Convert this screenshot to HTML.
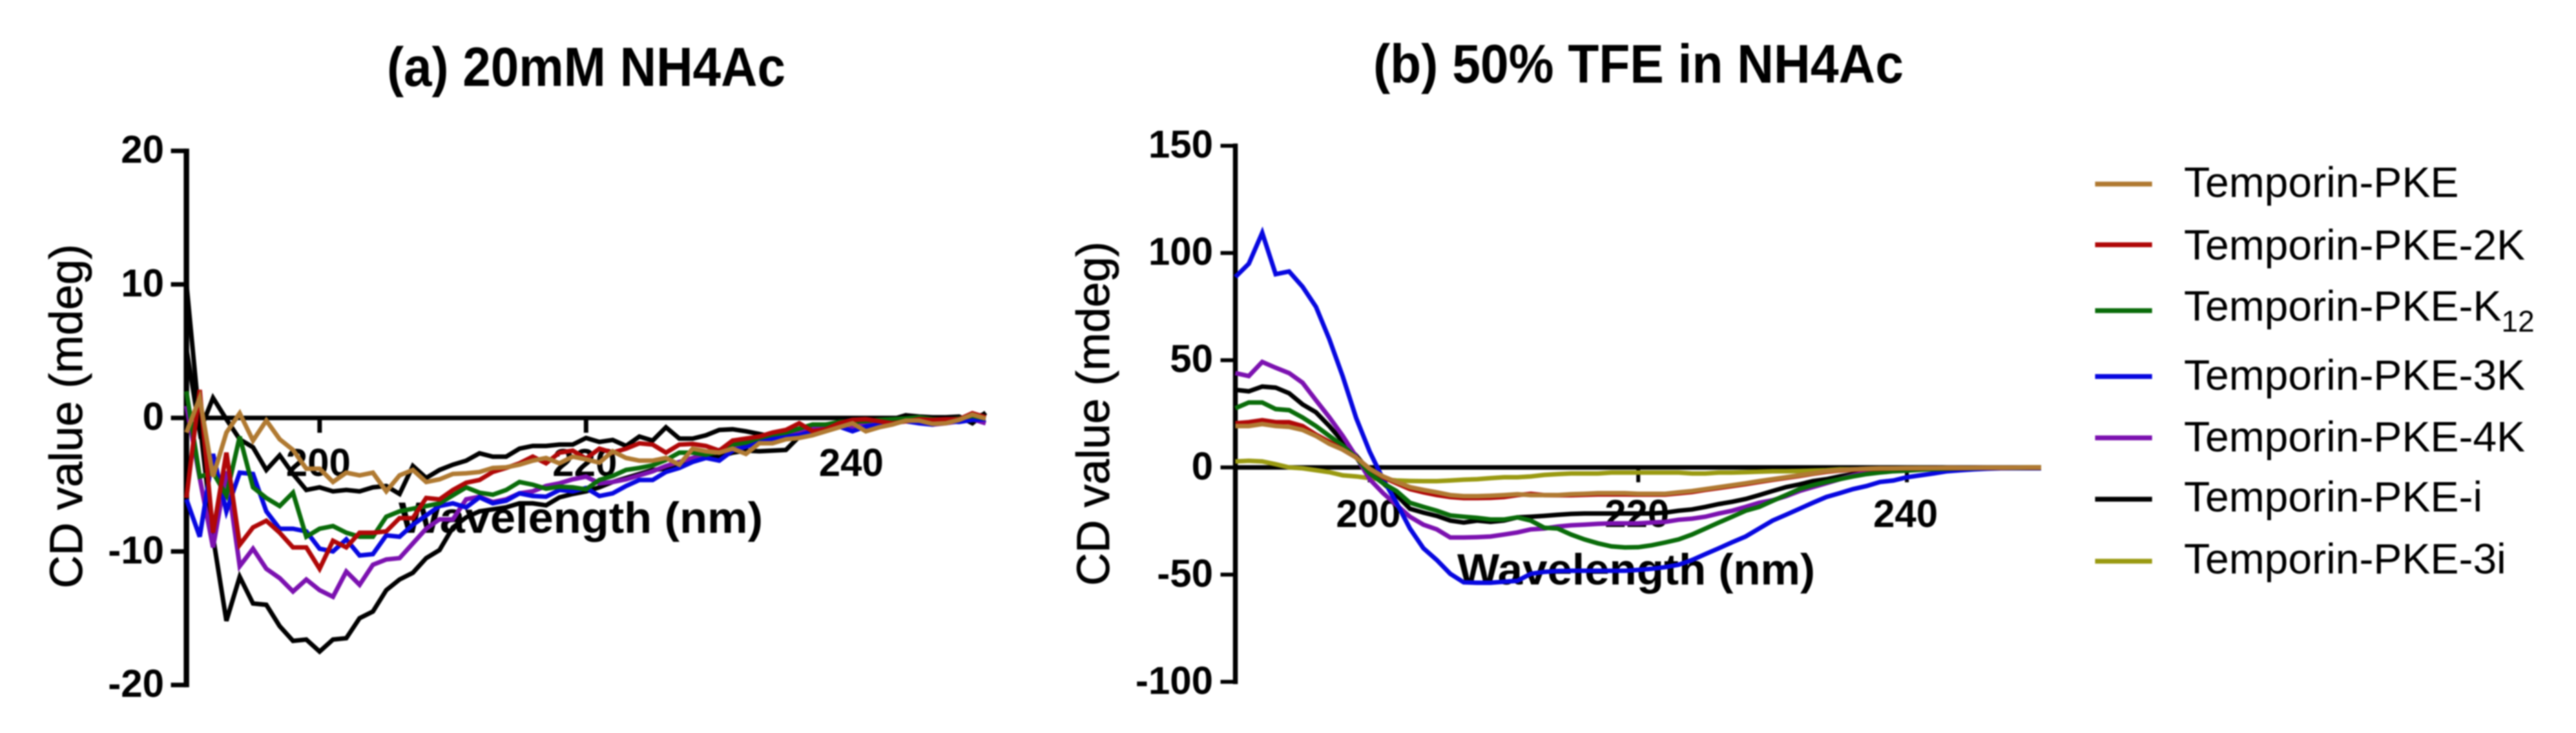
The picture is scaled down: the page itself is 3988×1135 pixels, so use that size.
<!DOCTYPE html>
<html lang="en">
<head>
<meta charset="utf-8">
<title>CD spectra of Temporin-PKE analogues</title>
<style>
html,body{margin:0;padding:0;background:#fff;width:3988px;height:1135px;overflow:hidden}
svg{display:block;filter:blur(1px)}
text{font-family:"Liberation Sans",sans-serif;fill:#000}
.b{font-weight:bold}
</style>
</head>
<body>
<svg id="chart" xmlns="http://www.w3.org/2000/svg" width="3988" height="1135" viewBox="0 0 3988 1135">
  <rect x="0" y="0" width="3988" height="1135" fill="#fff"/>
  <text class="b" x="599" y="133" font-size="85" textLength="617" lengthAdjust="spacingAndGlyphs">(a) 20mM NH4Ac</text>
  <text class="b" x="2126" y="128" font-size="84" textLength="821" lengthAdjust="spacingAndGlyphs">(b) 50% TFE in NH4Ac</text>
  <text x="127" y="644.5" font-size="71" text-anchor="middle" textLength="533" lengthAdjust="spacingAndGlyphs" stroke="#000" stroke-width="0.8" transform="rotate(-90 127 644.5)">CD value (mdeg)</text>
  <text x="1717" y="640.5" font-size="71" text-anchor="middle" textLength="533" lengthAdjust="spacingAndGlyphs" stroke="#000" stroke-width="0.8" transform="rotate(-90 1717 640.5)">CD value (mdeg)</text>
  <text class="b" x="617" y="825" font-size="68" textLength="564" lengthAdjust="spacingAndGlyphs">Wavelength (nm)</text>
  <text class="b" x="2256" y="905" font-size="68" textLength="554" lengthAdjust="spacingAndGlyphs">Wavelength (nm)</text>
  <g id="layer-a"></g>
  <g id="layer-b"></g>
  <g id="legend"></g>
</svg>
<script>
const wavelengths = [190,191,192,193,194,195,196,197,198,199,200,201,202,203,204,205,206,207,208,209,210,211,212,213,214,215,216,217,218,219,220,221,222,223,224,225,226,227,228,229,230,231,232,233,234,235,236,237,238,239,240,241,242,243,244,245,246,247,248,249,250];
const xTickValues = [200,220,240];
const yTicksA = [20,10,0,-10,-20];
const yTicksB = [150,100,50,0,-50,-100];
const seriesNames = ['Temporin-PKE','Temporin-PKE-2K','Temporin-PKE-K','Temporin-PKE-3K','Temporin-PKE-4K','Temporin-PKE-i','Temporin-PKE-3i'];
const seriesColors = ['#b07a32','#b00808','#0a6c0a','#0808e0','#7c12b0','#000000','#9a9a12'];

/* Panel (a) 20mM NH4Ac */
const aPKE = [-1.1,1.5,-4.4,-1.1,0.35,-1.7,-0.2,-1.6,-2.4,-3.8,-3.8,-4.8,-4.1,-4.3,-4.1,-5.5,-4.3,-3.9,-4.8,-4.6,-4.2,-4.15,-4.05,-3.75,-3.7,-3.5,-3.2,-3,-3.4,-2.9,-3.1,-3.35,-2.5,-3,-3.2,-3.2,-3,-3.5,-2.3,-2.5,-2.6,-2.3,-2.7,-1.9,-1.9,-1.6,-1.5,-1.3,-1,-0.7,-0.4,-1,-0.7,-0.5,-0.2,-0.2,-0.45,-0.4,-0.15,0.25,-0.05];
const a2K = [-6,2.1,-8.6,-2.6,-9.5,-8.2,-7.7,-8.6,-9.7,-9.7,-11.3,-9.2,-9.7,-8.6,-8.6,-8.5,-7.5,-7.5,-6,-6.1,-5.4,-4.85,-4.65,-4.05,-3.75,-3.4,-2.9,-3.4,-2.6,-2.45,-3.05,-2.3,-2.6,-2.3,-1.9,-2,-2.6,-2,-1.95,-2.1,-2.45,-1.7,-1.55,-1.4,-1.1,-0.9,-0.4,-1,-0.85,-0.4,-0.15,-0.1,-0.25,-0.4,-0.25,-0.1,-0.15,-0.1,-0.1,0.35,0.05];
const aK12 = [2,-4.4,-4.1,-5.8,-1.4,-5.2,-6,-6.6,-5.6,-8.9,-8.3,-8.1,-8.6,-8.9,-8.9,-7.4,-7,-6.8,-6.6,-6.4,-5.8,-5.2,-5.6,-5.75,-5.4,-4.8,-5,-5.3,-5.15,-5.2,-5.35,-4.65,-4.35,-3.9,-3.75,-3.55,-3.15,-2.6,-2.6,-2.75,-2.5,-2,-1.85,-1.5,-1.25,-1.1,-0.8,-0.5,-0.5,-0.3,-0.25,-0.25,-0.15,-0.1,-0.05,0.05,-0.1,-0.15,-0.05,0.15,-0.05];
const a3K = [-6.1,-8.9,-2.7,-7,-4.1,-4.2,-7,-8.3,-8.3,-8.5,-9.8,-10,-9.1,-10.3,-10.2,-8.8,-8.9,-8,-7.3,-6.6,-6.4,-6.7,-5.95,-6.4,-6.2,-5.65,-5.85,-5.9,-5.4,-5.5,-5.25,-5.85,-5.65,-5.1,-4.65,-4.65,-4.05,-3.75,-3.3,-3,-3.2,-2.45,-2.15,-1.85,-1.55,-1.4,-1.3,-1,-0.85,-0.65,-1,-0.65,-0.5,-0.4,-0.25,-0.4,-0.5,-0.25,-0.3,-0.15,-0.1];
const a4K = [0.9,-4.5,-9.7,-4,-11.1,-9.8,-11.3,-12,-13,-12.1,-12.9,-13.4,-11.5,-12.5,-11,-10.6,-10.5,-9.4,-8.3,-7.6,-7.6,-6.1,-5.9,-6.3,-6.1,-5.65,-5.5,-5.1,-4.9,-4.6,-4.4,-4.9,-4.8,-4.6,-4.3,-4,-3.6,-3.3,-3,-2.7,-2.4,-2.15,-1.85,-1.55,-1.4,-1.2,-1,-0.7,-0.5,-0.45,-0.7,-0.5,-0.4,-0.3,-0.25,-0.25,-0.5,-0.4,-0.25,-0.1,-0.4];
const aI = [10.1,-0.4,-8.9,-15.2,-11.9,-13.9,-14,-15.6,-16.7,-16.6,-17.5,-16.6,-16.5,-15,-14.5,-12.9,-12.1,-11.6,-10.5,-9.9,-8.2,-7.45,-7,-6.85,-6.7,-6.4,-6.4,-6.55,-5.95,-5.7,-5.5,-5.2,-4.8,-4.5,-4.2,-3.9,-3.8,-3.5,-3.2,-3,-2.9,-2.6,-2.45,-2.5,-2.45,-2.4,-1.4,-0.8,-0.7,-0.55,-0.4,-0.25,-0.25,-0.1,0.2,-0.1,-0.1,-0.25,-0.1,-0.1,0.35];
const a3I = [5.2,-1,1.5,-0.1,-1.6,-2.2,-3.9,-2.8,-4.2,-5.4,-5.2,-5.5,-5.4,-5.5,-5.2,-5.1,-5.7,-3.6,-4.5,-3.9,-3.5,-3.2,-2.65,-2.9,-2.9,-2.3,-2.1,-2.1,-2,-2,-1.5,-1.8,-1.65,-2.1,-1.4,-1.7,-0.7,-1.55,-1.55,-1.3,-0.9,-0.85,-1,-1.2,-1.4,-1.5,-1.2,-0.9,-0.5,-0.4,-0.2,-0.1,-0.1,-0.1,0.2,0.1,0.05,0.05,0.1,-0.4,0.4];

/* Panel (b) 50% TFE in NH4Ac */
const bPKE = [19.3,19.3,20.2,19.3,18.9,17.5,14.7,11,8.3,4.6,-0.6,-4.2,-6.8,-9.2,-10.5,-11.6,-12.9,-13.4,-13.4,-13.2,-12.9,-12.5,-12.9,-12.9,-12.9,-12.5,-12.3,-12,-12,-12,-12.3,-12.3,-12.3,-11.6,-11,-10.1,-9.2,-8.3,-7.4,-6.4,-5.5,-4.6,-3.7,-2.8,-1.8,-1.3,-0.9,-0.6,-0.4,-0.4,-0.3,-0.3,-0.3,-0.2,-0.2,-0.2,-0.1,-0.1,-0.1,0,0];
const b2K = [20.6,21.1,22,21.1,21.1,19.3,15.3,11.9,8.3,4.6,-0.6,-4.6,-7.4,-10.1,-11.6,-12.9,-13.8,-14.3,-14.3,-14.2,-13.8,-12.9,-12.3,-12.9,-13,-13,-12.8,-12.6,-12.6,-12.6,-12.7,-12.7,-12.7,-12.1,-11.5,-10.5,-9.6,-8.7,-7.8,-6.8,-5.8,-4.9,-4,-3,-2.1,-1.5,-1.1,-0.8,-0.6,-0.5,-0.4,-0.4,-0.3,-0.3,-0.3,-0.2,-0.2,-0.2,-0.1,-0.1,-0.1];
const bK12 = [27.6,30.3,30.3,27.2,26.7,23.3,19.3,14.7,10.1,4.6,-2.8,-7.4,-11,-16.5,-18.4,-20.2,-22.4,-23,-23.5,-24.3,-24.3,-23.3,-24.8,-28.1,-28.5,-31.3,-33.6,-35.4,-36.8,-37.3,-37.2,-36.3,-35,-33.6,-31.3,-28.5,-25.7,-23,-20.2,-18.4,-15.6,-12.9,-10.1,-8.3,-6.8,-5.5,-4.2,-3.1,-2.4,-1.8,-1.5,-1.1,-0.8,-0.6,-0.4,-0.3,-0.2,-0.2,-0.2,-0.2,-0.2];
const b3K = [88.8,95,109.4,90.1,91.4,84.3,74.9,59.8,42.4,23,7.4,-5.5,-16.5,-28.5,-37.7,-43.2,-49.6,-53.6,-53.8,-53.8,-53.3,-52.9,-49.6,-48.7,-48.3,-48.2,-48.2,-48.2,-48.2,-48.2,-47.8,-47.3,-46.5,-45.4,-43.2,-40.4,-37.7,-34.9,-32.2,-28.5,-24.8,-22.1,-19.3,-16.5,-13.8,-12,-10.1,-8.7,-6.8,-6.1,-4.6,-3.7,-2.8,-1.8,-1.3,-0.9,-0.6,-0.4,-0.4,-0.4,-0.4];
const b4K = [44,42.6,49.2,46.5,44,39.5,31.3,23.4,14.7,5,-5.5,-12,-17.5,-23,-26.7,-28.9,-32.7,-32.7,-32.5,-32.2,-31.3,-30.3,-28.9,-28.5,-27.6,-27,-26.7,-26.3,-26.1,-26.1,-26.1,-25.7,-25.4,-24.4,-23.9,-23,-21.5,-20.2,-18.4,-16.5,-15.3,-13.4,-11,-9.2,-7.4,-5.5,-3.7,-2.4,-1.5,-0.9,-0.6,-0.4,-0.3,-0.2,-0.2,-0.2,-0.2,-0.2,-0.2,-0.2,-0.2];
const bI = [36.2,35.5,37.7,37.2,34.6,29.4,25.7,19.3,12,5.5,-1.8,-7.4,-12.9,-19.3,-21.1,-22.6,-24.8,-25.7,-24.8,-25.4,-24.8,-23.3,-23,-22.6,-22.1,-21.7,-21.5,-21.5,-21.5,-21.5,-21.5,-21.5,-21.1,-20.2,-19.6,-18.4,-17.1,-16,-14.7,-12.9,-11,-9.2,-7.9,-6.4,-5.5,-4.2,-3.1,-2.4,-1.8,-1.3,-0.9,-0.6,-0.4,-0.3,-0.2,-0.2,-0.2,-0.2,-0.2,-0.2,-0.2];
const b3I = [2.8,3.1,2.8,1.5,0,-0.4,-1.3,-2.2,-3.7,-4.2,-5,-5.5,-6.1,-6.3,-6.4,-6.4,-6.1,-5.7,-5.5,-5,-4.6,-4.6,-4.2,-3.5,-3.1,-2.8,-2.8,-2.8,-2.4,-2.4,-2.4,-2.4,-2.4,-2.4,-2.8,-2.8,-2.4,-2.4,-2.2,-2,-1.8,-1.8,-1.7,-1.5,-1.3,-0.9,-0.9,-0.7,-0.6,-0.5,-0.4,-0.3,-0.3,-0.2,-0.2,-0.2,-0.1,-0.1,-0.1,0,0];

const panelASeries = [aPKE,a2K,aK12,a3K,a4K,aI,a3I];
const panelBSeries = [bPKE,b2K,bK12,b3K,b4K,bI,b3I];
const panelAColors = ['#b07a32','#b00808','#0a6c0a','#0808e0','#7c12b0','#000000','#000000'];

const NS = 'http://www.w3.org/2000/svg';

function linear(d0, d1, r0, r1) {
  return function (v) { return r0 + (v - d0) * (r1 - r0) / (d1 - d0); };
}
const xA = linear(190, 250, 288.6, 1526);
const yA = linear(20, -20, 233.6, 1060.6);
const xB = linear(190, 250, 1912.5, 3160);
const yB = linear(150, -100, 225.7, 1055.8);

function makeLine(parent, x1, y1, x2, y2, w) {
  const el = document.createElementNS(NS, 'line');
  el.setAttribute('x1', x1);
  el.setAttribute('y1', y1);
  el.setAttribute('x2', x2);
  el.setAttribute('y2', y2);
  el.setAttribute('stroke', '#000');
  el.setAttribute('stroke-width', w);
  parent.appendChild(el);
  return el;
}
function makeText(parent, x, y, str, size, anchor) {
  const el = document.createElementNS(NS, 'text');
  el.setAttribute('x', x);
  el.setAttribute('y', y);
  el.setAttribute('font-size', size);
  el.setAttribute('font-weight', 'bold');
  el.setAttribute('text-anchor', anchor);
  el.textContent = str;
  parent.appendChild(el);
  return el;
}

function drawPanel(layer, prefix, xs, ys, yTicks, series, colors, opt) {
  const zero = ys(0);
  const yAxis = makeLine(layer, xs(190), ys(yTicks[0]) - 3.5, xs(190), ys(yTicks[yTicks.length - 1]) + 3.5, opt.axisW);
  
  
  const xAxis = makeLine(layer, xs(190), zero, xs(250), zero, opt.xAxisW);
  
  

  yTicks.forEach(function (t) {
    const tick = makeLine(layer, xs(190) - opt.tickLen, ys(t), xs(190), ys(t), opt.tickW);
    
    
    const lab = makeText(layer, opt.yLabelX, ys(t) + 18.5, String(t), 60, 'end');
    
    
  });
  xTickValues.forEach(function (t) {
    const tick = makeLine(layer, xs(t), zero, xs(t), zero + 23, opt.tickW);
    
    
    const lab = makeText(layer, xs(t) - 2, opt.xLabelY, String(t), 60, 'middle');
    
    
  });

  for (let s = series.length - 1; s >= 0; s--) {
    const pts = series[s].map(function (v, i) {
      return xs(wavelengths[i]).toFixed(1) + ',' + ys(v).toFixed(1);
    }).join(' ');
    const poly = document.createElementNS(NS, 'polyline');
    poly.setAttribute('points', pts);
    poly.setAttribute('fill', 'none');
    poly.setAttribute('stroke', colors[s]);
    poly.setAttribute('stroke-width', opt.lineW);
    poly.setAttribute('stroke-linejoin', 'miter');
    
    
    layer.appendChild(poly);
  }
}

drawPanel(document.getElementById('layer-a'), 'panel-a', xA, yA, yTicksA, panelASeries, panelAColors,
  {axisW: 8.5, xAxisW: 7, tickLen: 24, tickW: 7, lineW: 7, yLabelX: 254, xLabelY: 737});
drawPanel(document.getElementById('layer-b'), 'panel-b', xB, yB, yTicksB, panelBSeries, seriesColors,
  {axisW: 7.5, xAxisW: 7, tickLen: 23, tickW: 6, lineW: 7, yLabelX: 1878, xLabelY: 816});

const legend = document.getElementById('legend');
const legendLineY = [285, 379, 481, 583, 678, 773, 869];
const legendTextY = [305, 402, 496.5, 603.7, 699, 792, 888];
seriesNames.forEach(function (name, i) {
  const swatch = makeLine(legend, 3243.5, legendLineY[i], 3331.7, legendLineY[i], 7.5);
  swatch.setAttribute('stroke', seriesColors[i]);
  
  
  const label = document.createElementNS(NS, 'text');
  label.setAttribute('x', 3381);
  label.setAttribute('y', legendTextY[i]);
  label.setAttribute('font-size', 66);
  label.textContent = name;
  
  
  if (i === 2) {
    const sub = document.createElementNS(NS, 'tspan');
    sub.setAttribute('dy', 17);
    sub.setAttribute('font-size', 46);
    sub.textContent = '12';
    label.appendChild(sub);
  }
  legend.appendChild(label);
});
</script>
</body>
</html>
